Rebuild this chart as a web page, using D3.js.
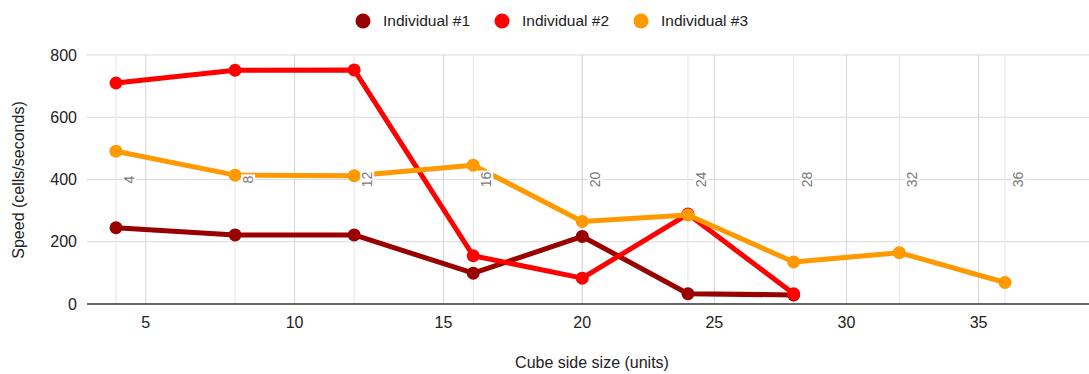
<!DOCTYPE html>
<html>
<head>
<meta charset="utf-8">
<script src="https://cdn.jsdelivr.net/npm/d3@7"></script>
<style>
    body, html {
        margin: 0px;
        padding: 0px;
        background-color: white;
        font-family: Arial, "Liberation Sans", sans-serif;
    }
</style>
</head>
<body>
<div id="container"></div>
<script>
    // chart data
    const cubeSizes = [4, 8, 12, 16, 20, 24, 28, 32, 36];
    const seriesNames = ["Individual #1", "Individual #2", "Individual #3"];
    const individual1 = [245, 222, 222, 99, 217, 33, 29];
    const individual2 = [710, 751, 752, 155, 83, 289, 33];
    const individual3 = [491, 414, 412, 446, 265, 286, 135, 165, 69];
    const yTicks = [0, 200, 400, 600, 800];
    const xTicks = [5, 10, 15, 20, 25, 30, 35];

    const colors = ["#990000", "#ff0000", "#ff9900"];
    const allSeries = [individual1, individual2, individual3];

    const width = 1089;
    const height = 374;
    const plotLeft = 87, plotRight = 1089, plotTop = 55, plotBottom = 304;

    const svg = d3.select("#container").append("svg")
        .attr("width", width)
        .attr("height", height)
        .style("display", "block");

    // the source picture is slightly stretched on its left part, so use a polylinear scale
    const x = d3.scaleLinear()
        .domain([4, 17, 36])
        .range([116, 503, 1005]);

    const y = d3.scaleLinear()
        .domain([0, 800])
        .range([plotBottom, plotTop]);

    // horizontal grid
    svg.append("g")
        .selectAll("line")
        .data(yTicks.filter(d => d > 0))
        .join("line")
        .attr("x1", plotLeft).attr("x2", plotRight)
        .attr("y1", d => y(d)).attr("y2", d => y(d))
        .attr("stroke", "#d9d9d9")
        .attr("stroke-width", 1);

    // vertical grid at the category values (lighter)
    svg.append("g")
        .selectAll("line")
        .data(cubeSizes)
        .join("line")
        .attr("x1", d => x(d)).attr("x2", d => x(d))
        .attr("y1", plotTop).attr("y2", plotBottom)
        .attr("stroke", "#e6e6e6")
        .attr("stroke-width", 1);

    // vertical grid at major ticks
    svg.append("g")
        .selectAll("line")
        .data(xTicks)
        .join("line")
        .attr("x1", d => x(d)).attr("x2", d => x(d))
        .attr("y1", plotTop).attr("y2", plotBottom)
        .attr("stroke", "#d4d4d4")
        .attr("stroke-width", 1);

    // baseline
    svg.append("line")
        .attr("x1", plotLeft).attr("x2", plotRight)
        .attr("y1", y(0)).attr("y2", y(0))
        .attr("stroke", "#333")
        .attr("stroke-width", 1.5);

    // y tick labels
    svg.append("g")
        .selectAll("text")
        .data(yTicks)
        .join("text")
        .attr("x", 77)
        .attr("y", d => y(d))
        .attr("dy", "0.35em")
        .attr("text-anchor", "end")
        .attr("font-size", 16)
        .attr("fill", "#222")
        .text(d => d);

    // x tick labels
    svg.append("g")
        .selectAll("text")
        .data(xTicks)
        .join("text")
        .attr("x", d => x(d))
        .attr("y", 328)
        .attr("text-anchor", "middle")
        .attr("font-size", 16)
        .attr("fill", "#222")
        .text(d => d);

    // axis titles
    svg.append("text")
        .attr("x", 592)
        .attr("y", 368)
        .attr("text-anchor", "middle")
        .attr("font-size", 16)
        .attr("fill", "#222")
        .text("Cube side size (units)");

    svg.append("text")
        .attr("transform", `translate(24,${180}) rotate(-90)`)
        .attr("text-anchor", "middle")
        .attr("font-size", 16)
        .attr("fill", "#222")
        .text("Speed (cells/seconds)");

    // lines and markers
    const line = d3.line()
        .x((d, i) => x(cubeSizes[i]))
        .y(d => y(d));

    allSeries.forEach((values, k) => {
        const g = svg.append("g");
        g.append("path")
            .datum(values)
            .attr("d", line)
            .attr("fill", "none")
            .attr("stroke", colors[k])
            .attr("stroke-width", 5)
            .attr("stroke-linejoin", "round");
        g.selectAll("circle")
            .data(values)
            .join("circle")
            .attr("cx", (d, i) => x(cubeSizes[i]))
            .attr("cy", d => y(d))
            .attr("r", 6.5)
            .attr("fill", colors[k]);
    });

    // rotated category labels, drawn over the lines on a white box
    const catLabel = svg.append("g")
        .selectAll("g")
        .data(cubeSizes)
        .join("g")
        .attr("transform", d => `translate(${x(d) + 18},${y(400)}) rotate(-90)`);
    const catText = catLabel.append("text")
        .attr("text-anchor", "middle")
        .attr("font-size", 14)
        .attr("fill", "#7a7a7a")
        .text(d => d);
    catLabel.each(function () {
        const b = d3.select(this).select("text").node().getBBox();
        d3.select(this).insert("rect", "text")
            .attr("x", b.x - 1)
            .attr("y", b.y + 1)
            .attr("width", b.width + 2)
            .attr("height", b.height - 2)
            .attr("fill", "white");
    });

    // legend
    const legendX = [363, 502, 641];
    const legend = svg.append("g")
        .selectAll("g")
        .data(seriesNames)
        .join("g")
        .attr("transform", (d, i) => `translate(${legendX[i]},21)`);
    legend.append("circle")
        .attr("r", 7.5)
        .attr("fill", (d, i) => colors[i]);
    legend.append("text")
        .attr("x", 20)
        .attr("dy", "0.35em")
        .attr("font-size", 15.5)
        .attr("fill", "#222")
        .text(d => d);
</script>
</body>
</html>
